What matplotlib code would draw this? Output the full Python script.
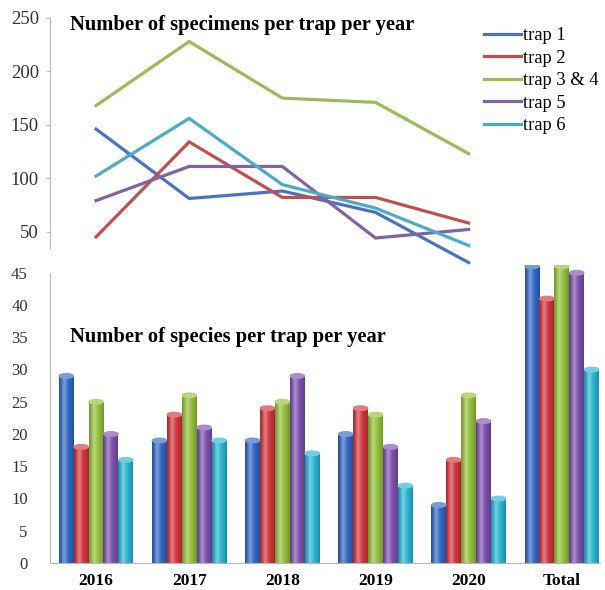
import numpy as np
import matplotlib
matplotlib.use("Agg")
import matplotlib.pyplot as plt
from matplotlib.colors import to_rgb
from matplotlib.patches import Ellipse

plt.rcParams["font.family"] = ["Liberation Serif", "DejaVu Serif"]

# --- data ---
years = ["2016", "2017", "2018", "2019", "2020"]
groups = years + ["Total"]
traps = ["trap 1", "trap 2", "trap 3 & 4", "trap 5", "trap 6"]

specimens_trap1 = [146, 81, 88, 68, 21]
specimens_trap2 = [45, 134, 82, 82, 58]
specimens_trap34 = [168, 228, 175, 171, 123]
specimens_trap5 = [79, 111, 111, 44, 52]
specimens_trap6 = [102, 156, 94, 72, 37]

species_trap1 = [29, 19, 19, 20, 9, 46]
species_trap2 = [18, 23, 24, 24, 16, 41]
species_trap34 = [25, 26, 25, 23, 26, 46]
species_trap5 = [20, 21, 29, 18, 22, 45]
species_trap6 = [16, 19, 17, 12, 10, 30]

line_colors = ["#4a72c0", "#c0504d", "#9bbb59", "#8064a2", "#4bacc6"]
bar_colors = ["#2f66c4", "#d2343a", "#93c03a", "#7d4fae", "#27b4d4"]

W, H = 605, 590
fig = plt.figure(figsize=(W / 100, H / 100), dpi=100)


def px_box(left, top, right, bottom):
    return [left / W, 1 - bottom / H, (right - left) / W, (bottom - top) / H]


xlim = (-0.494, 5.41)
grey = "#b8b8b8"

# --- bar chart (species) ---
axb = fig.add_axes(px_box(50, 265, 600, 563))
axb.set_xlim(*xlim)
axb.set_ylim(0, 46.2)
for s in ["top", "right"]:
    axb.spines[s].set_visible(False)
axb.spines["left"].set_color(grey)
axb.spines["bottom"].set_color(grey)
axb.spines["left"].set_bounds(0, 45)
axb.set_yticks(range(0, 50, 5))
axb.tick_params(axis="y", length=0, pad=16, labelsize=12, labelcolor="#333333")
axb.set_xticks(range(len(groups)))
axb.set_xticklabels(groups, fontweight="bold", fontsize=12.5)
axb.tick_params(axis="x", length=0, pad=7)

species = [species_trap1, species_trap2, species_trap34, species_trap5, species_trap6]
bw = 0.16
xs = np.arange(len(groups))
prof = np.linspace(0, 1, 64)
highlight = np.exp(-((prof - 0.35) / 0.18) ** 2)
edge = 0.78 + 0.22 * np.sin(np.pi * prof)
for k, vals in enumerate(species):
    base = np.array(to_rgb(bar_colors[k]))
    grad = base[None, :] * edge[:, None]
    grad = grad + (1 - grad) * 0.35 * highlight[:, None]
    img = np.clip(grad[None, :, :], 0, 1)
    pos = xs + (k - 2) * bw
    bars = axb.bar(pos, vals, width=bw, color=bar_colors[k], linewidth=0, zorder=2)
    for b in bars:
        x0, w_, h_ = b.get_x(), b.get_width(), b.get_height()
        im = axb.imshow(img, extent=(x0, x0 + w_, 0, h_), aspect="auto", zorder=2.5)
        im.set_clip_path(b)
        cap = np.clip(base + (1 - base) * 0.35, 0, 1)
        axb.add_patch(Ellipse((x0 + w_ / 2, h_), w_ * 0.95, 0.7, color=cap, zorder=3))
axb.set_xlim(*xlim)
axb.set_ylim(0, 46.2)

fig.text(70 / W, 1 - 337 / H, "Number of species per trap per year",
         fontweight="bold", fontsize=14.8, va="center")

# --- line chart (specimens) ---
axl = fig.add_axes(px_box(50, 18, 600, 266), facecolor="none")
axl.set_xlim(*xlim)
axl.set_ylim(17.8, 250)
for s in ["top", "right", "bottom"]:
    axl.spines[s].set_visible(False)
axl.spines["left"].set_color(grey)
axl.spines["left"].set_bounds(35, 250)
axl.set_xticks([])
axl.set_yticks(range(50, 300, 50))
axl.tick_params(axis="y", length=3, color=grey, pad=5, labelsize=13.5, labelcolor="#333333")

specimens = [specimens_trap1, specimens_trap2, specimens_trap34, specimens_trap5, specimens_trap6]
xl = np.arange(len(years))
for k, vals in enumerate(specimens):
    axl.plot(xl, vals, color=line_colors[k], lw=2.3, label=traps[k],
             solid_joinstyle="miter")

fig.text(70 / W, 1 - 25 / H, "Number of specimens per trap per year",
         fontweight="bold", fontsize=14.8, va="center")

axl.legend(loc="upper left", bbox_to_anchor=(484 / W, 1 - 27 / H),
           bbox_transform=fig.transFigure, frameon=False, fontsize=13.3,
           handlelength=2.0, handletextpad=0.1, labelspacing=0.3,
           borderpad=0, borderaxespad=0)

fig.savefig("out.png", dpi=100)
